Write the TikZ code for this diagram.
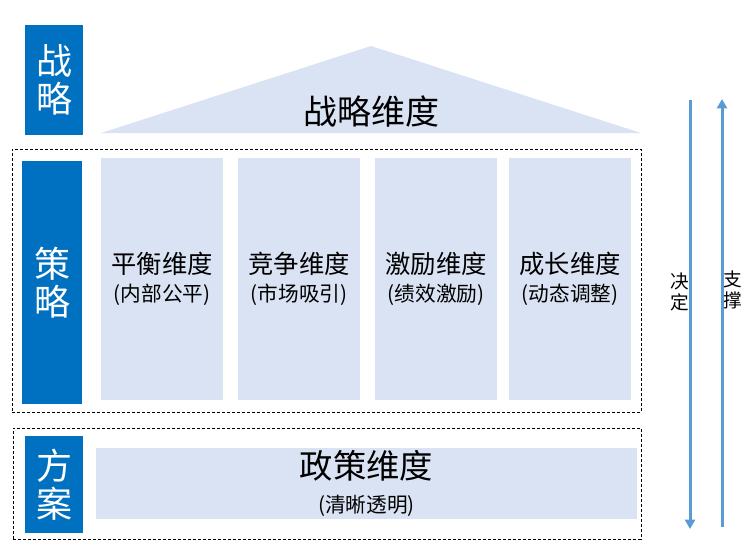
\documentclass[tikz,border=0pt]{standalone}
\usepackage{fontspec}
\setmainfont{Noto Sans CJK SC}
\usepackage{tikz}
\usetikzlibrary{shapes}
\usetikzlibrary{arrows.meta}
\definecolor{darkblue}{HTML}{0070C0}
\definecolor{paleblue}{HTML}{DAE3F3}
\definecolor{arrowblue}{HTML}{5B9BD5}
\tikzstyle{label}=[fill=darkblue,text=white,inner sep=0mm,align=center,font=\fontsize{27}{28.5}\selectfont]
\tikzstyle{dim}=[fill=paleblue,inner sep=0mm,align=center,font=\fontsize{19}{21}\selectfont]
\tikzstyle{frame}=[draw=black,line width=0.75pt,dash pattern=on 2.25pt off 1.5pt,inner sep=0mm]
\tikzstyle{flow}=[draw=arrowblue,line width=2.25pt,-{Triangle[length=7pt,width=7.5pt]}]
\tikzstyle{side}=[align=center,inner sep=0mm,font=\fontsize{14}{16}\selectfont]
\newcommand{\sub}[1]{{\fontsize{15.5}{19}\selectfont #1}}

\begin{document}
\begin{tikzpicture}[x=0.75pt,y=-0.75pt]
      \useasboundingbox (0,0) rectangle (755,547);
      % outer dashed frames
      \node[frame,minimum width=471.75pt,minimum height=197.25pt] at (326.5,280.5) (F1) {};
      \node[frame,minimum width=471pt,minimum height=83.25pt] at (327,483.5) (F2) {};
      % roof
      \fill[paleblue] (101,133) -- (371,46) -- (641,133) -- cycle;
      \node[font=\fontsize{25.5}{27}\selectfont] at (371,112) (S) {战略维度};
      % level labels
      \node[label,minimum width=43.5pt,minimum height=82.5pt] at (54,80) (L1) {战\\略};
      \node[label,minimum width=45pt,minimum height=182.25pt] at (52,282.5) (L2) {策\\略};
      \node[label,minimum width=43.5pt,minimum height=72.75pt] at (54,484.5) (L3) {方\\案};
      % pillars
      \node[dim,minimum width=91.5pt,minimum height=181.5pt] at (162,279) (D1) {平衡维度\\\sub{(内部公平)}};
      \node[dim,minimum width=91.5pt,minimum height=181.5pt] at (299,279) (D2) {竞争维度\\\sub{(市场吸引)}};
      \node[dim,minimum width=91.5pt,minimum height=181.5pt] at (436,279) (D3) {激励维度\\\sub{(绩效激励)}};
      \node[dim,minimum width=91.5pt,minimum height=181.5pt] at (570,279) (D4) {成长维度\\\sub{(动态调整)}};
      % base
      \node[dim,minimum width=405.75pt,minimum height=53.25pt,font=\fontsize{25}{25}\selectfont] at (366.5,483.5) (P) {政策维度\\\sub{(清晰透明)}};
      % side arrows
      \node[side] at (680,292) (T1) {决\\定};
      \node[side] at (733,290) (T2) {支\\撑};
      \coordinate (A1) at (690,100);
      \coordinate (A2) at (690,529);
      \coordinate (B1) at (722,527);
      \coordinate (B2) at (722,99);
      \draw[flow] (A1) -- (A2);
      \draw[flow] (B1) -- (B2);
    \end{tikzpicture}
\end{document}
